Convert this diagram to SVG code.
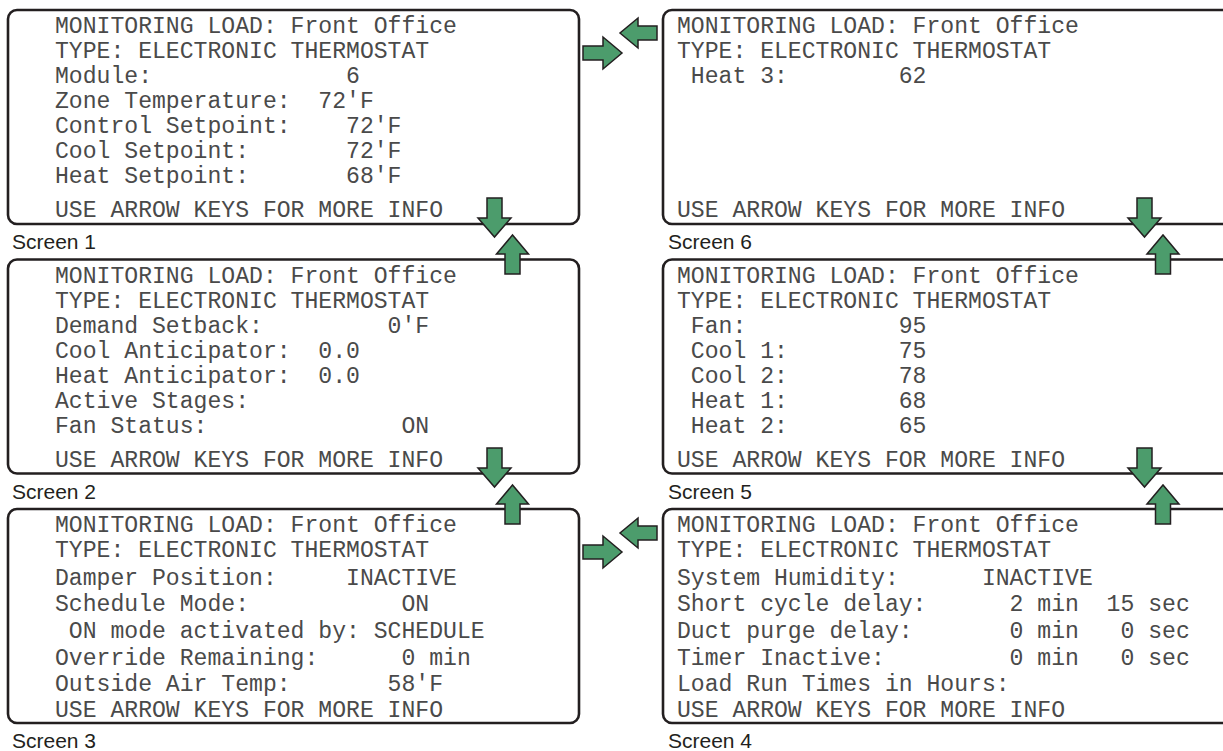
<svg xmlns="http://www.w3.org/2000/svg" width="1223" height="751" viewBox="0 0 1223 751">
<style>
.box{fill:#fff;stroke:#231f20;stroke-width:2.6}
.t{font-family:"Liberation Mono","Courier New",monospace;font-size:23.1px;fill:#4a4a4a;white-space:pre}
.lbl{font-family:"Liberation Sans",Arial,sans-serif;font-size:21px;fill:#231f20}
.ar{fill:#4c9c6c;stroke:#231f20;stroke-width:1.5;stroke-linejoin:miter}
</style>
<defs>
<path id="aR" d="M0,-7 H20 V-16 L39,0 L20,16 V7 H0 Z"/>
<path id="aL" d="M0,-7 H-19 V-15 L-37,0 L-19,15 V7 H0 Z"/>
<path id="aD" d="M-7.5,0 H7.5 V20 H16.5 L0,39 L-16.5,20 H-7.5 Z"/>
<path id="aU" d="M-7.5,0 H7.5 V-20 H16 L0,-39 L-16,-20 H-7.5 Z"/>
</defs>

<g id="screen1">
<rect class="box" x="8" y="10" width="571" height="214" rx="9"/>
<text class="t" xml:space="preserve" x="55" y="33">MONITORING LOAD: Front Office</text>
<text class="t" xml:space="preserve" x="55" y="58">TYPE: ELECTRONIC THERMOSTAT</text>
<text class="t" xml:space="preserve" x="55" y="83">Module:              6</text>
<text class="t" xml:space="preserve" x="55" y="108">Zone Temperature:  72'F</text>
<text class="t" xml:space="preserve" x="55" y="133">Control Setpoint:    72'F</text>
<text class="t" xml:space="preserve" x="55" y="158">Cool Setpoint:       72'F</text>
<text class="t" xml:space="preserve" x="55" y="183">Heat Setpoint:       68'F</text>
<text class="t" xml:space="preserve" x="55" y="217">USE ARROW KEYS FOR MORE INFO</text>
<text class="lbl" x="12" y="249">Screen 1</text>
</g>

<g id="screen2">
<rect class="box" x="8" y="259.5" width="571" height="214" rx="9"/>
<text class="t" xml:space="preserve" x="55" y="282.5">MONITORING LOAD: Front Office</text>
<text class="t" xml:space="preserve" x="55" y="307.5">TYPE: ELECTRONIC THERMOSTAT</text>
<text class="t" xml:space="preserve" x="55" y="332.5">Demand Setback:         0'F</text>
<text class="t" xml:space="preserve" x="55" y="357.5">Cool Anticipator:  0.0</text>
<text class="t" xml:space="preserve" x="55" y="382.5">Heat Anticipator:  0.0</text>
<text class="t" xml:space="preserve" x="55" y="407.5">Active Stages:</text>
<text class="t" xml:space="preserve" x="55" y="432.5">Fan Status:              ON</text>
<text class="t" xml:space="preserve" x="55" y="466.5">USE ARROW KEYS FOR MORE INFO</text>
<text class="lbl" x="12" y="498.5">Screen 2</text>
</g>

<g id="screen3">
<rect class="box" x="8" y="509" width="571" height="214" rx="9"/>
<text class="t" xml:space="preserve" x="55" y="532">MONITORING LOAD: Front Office</text>
<text class="t" xml:space="preserve" x="55" y="557">TYPE: ELECTRONIC THERMOSTAT</text>
<text class="t" xml:space="preserve" x="55" y="584.5">Damper Position:     INACTIVE</text>
<text class="t" xml:space="preserve" x="55" y="611">Schedule Mode:           ON</text>
<text class="t" xml:space="preserve" x="55" y="638"> ON mode activated by: SCHEDULE</text>
<text class="t" xml:space="preserve" x="55" y="664.5">Override Remaining:      0 min</text>
<text class="t" xml:space="preserve" x="55" y="691">Outside Air Temp:       58'F</text>
<text class="t" xml:space="preserve" x="55" y="717">USE ARROW KEYS FOR MORE INFO</text>
<text class="lbl" x="12" y="748">Screen 3</text>
</g>

<g id="screen6">
<rect class="box" x="663" y="10" width="580" height="214" rx="9"/>
<text class="t" xml:space="preserve" x="677" y="33">MONITORING LOAD: Front Office</text>
<text class="t" xml:space="preserve" x="677" y="58">TYPE: ELECTRONIC THERMOSTAT</text>
<text class="t" xml:space="preserve" x="677" y="83"> Heat 3:        62</text>
<text class="t" xml:space="preserve" x="677" y="217">USE ARROW KEYS FOR MORE INFO</text>
<text class="lbl" x="668" y="249">Screen 6</text>
</g>

<g id="screen5">
<rect class="box" x="663" y="259.5" width="580" height="214" rx="9"/>
<text class="t" xml:space="preserve" x="677" y="282.5">MONITORING LOAD: Front Office</text>
<text class="t" xml:space="preserve" x="677" y="307.5">TYPE: ELECTRONIC THERMOSTAT</text>
<text class="t" xml:space="preserve" x="677" y="332.5"> Fan:           95</text>
<text class="t" xml:space="preserve" x="677" y="357.5"> Cool 1:        75</text>
<text class="t" xml:space="preserve" x="677" y="382.5"> Cool 2:        78</text>
<text class="t" xml:space="preserve" x="677" y="407.5"> Heat 1:        68</text>
<text class="t" xml:space="preserve" x="677" y="432.5"> Heat 2:        65</text>
<text class="t" xml:space="preserve" x="677" y="466.5">USE ARROW KEYS FOR MORE INFO</text>
<text class="lbl" x="668" y="498.5">Screen 5</text>
</g>

<g id="screen4">
<rect class="box" x="663" y="509" width="580" height="214" rx="9"/>
<text class="t" xml:space="preserve" x="677" y="532">MONITORING LOAD: Front Office</text>
<text class="t" xml:space="preserve" x="677" y="557">TYPE: ELECTRONIC THERMOSTAT</text>
<text class="t" xml:space="preserve" x="677" y="584.5">System Humidity:      INACTIVE</text>
<text class="t" xml:space="preserve" x="677" y="611">Short cycle delay:      2 min  15 sec</text>
<text class="t" xml:space="preserve" x="677" y="638">Duct purge delay:       0 min   0 sec</text>
<text class="t" xml:space="preserve" x="677" y="664.5">Timer Inactive:         0 min   0 sec</text>
<text class="t" xml:space="preserve" x="677" y="691">Load Run Times in Hours:</text>
<text class="t" xml:space="preserve" x="677" y="717">USE ARROW KEYS FOR MORE INFO</text>
<text class="lbl" x="668" y="748">Screen 4</text>
</g>

<g id="connectors">
<use href="#aR" class="ar" x="583" y="53"/>
<use href="#aL" class="ar" x="657" y="33"/>
<use href="#aR" class="ar" x="583" y="552"/>
<use href="#aL" class="ar" x="657" y="533"/>
<use href="#aD" class="ar" x="494.5" y="198"/>
<use href="#aU" class="ar" x="512.5" y="274"/>
<use href="#aD" class="ar" x="494.5" y="448"/>
<use href="#aU" class="ar" x="512.5" y="524"/>
<use href="#aD" class="ar" x="1144.5" y="198"/>
<use href="#aU" class="ar" x="1163" y="274"/>
<use href="#aD" class="ar" x="1144.5" y="448"/>
<use href="#aU" class="ar" x="1163" y="524"/>
</g>
</svg>
